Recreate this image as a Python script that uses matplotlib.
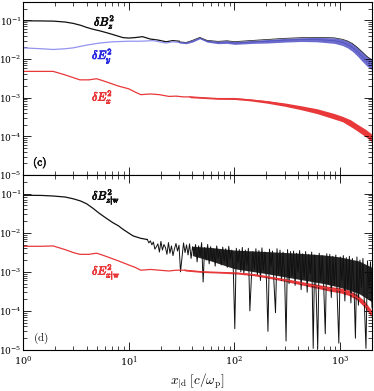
import numpy as np
import matplotlib
matplotlib.use("Agg")
import matplotlib.pyplot as plt
import matplotlib.patheffects as pe

plt.rcParams['mathtext.fontset'] = 'cm'
plt.rcParams['font.family'] = ['DejaVu Serif']

# ---------------- data ----------------
# panel (c) smooth low-x parts
x_bz = [1, 1.5, 1.93, 2.5, 2.98, 3.5, 4.0, 4.6, 5.3, 6.2, 7.1, 8.8, 10, 11.5, 13.5, 16, 19, 22.6, 26, 30]
bz2 = [0.098, 0.097, 0.096, 0.091, 0.084, 0.075, 0.066, 0.059, 0.054, 0.048, 0.043, 0.036, 0.035, 0.036, 0.038, 0.033, 0.031, 0.028, 0.03, 0.029]

x_ey = [1, 1.5, 1.93, 2.5, 2.98, 4.0, 5.3, 7.0, 10, 13, 17, 22.6, 26, 30]
ey2 = [0.0195, 0.0185, 0.0177, 0.0185, 0.0195, 0.023, 0.026, 0.028, 0.029, 0.029, 0.03, 0.026, 0.028, 0.027]

x_ex = [1, 1.5, 1.93, 2.5, 3.0, 3.45, 4.2, 4.96, 5.6, 6.6, 8.0, 10, 11.5, 13, 16, 19.5, 24, 28, 33, 38]
ex2 = [0.0048, 0.0048, 0.0048, 0.0039, 0.0033, 0.0029, 0.0029, 0.0031, 0.0028, 0.0024, 0.002, 0.0017, 0.0014, 0.0012, 0.00125, 0.0012, 0.00108, 0.0011, 0.00105, 0.00105]

# panel (c) noisy bands (x, low edge, mid, high edge)
band_ey_x = [30, 35, 40, 47, 55, 70, 85, 100, 150, 205, 300, 425, 600, 880, 1050, 1170, 1300, 1440, 1600, 1800, 2000]
band_ey_mid = [0.027, 0.026, 0.029, 0.035, 0.029, 0.027, 0.028, 0.026, 0.028, 0.029, 0.031, 0.032, 0.032, 0.030, 0.027, 0.024, 0.020, 0.016, 0.012, 0.0087, 0.0072]
band_ey_lo = [0.026, 0.025, 0.0275, 0.0335, 0.0275, 0.025, 0.0255, 0.024, 0.0255, 0.026, 0.0275, 0.0285, 0.028, 0.0255, 0.0225, 0.0195, 0.016, 0.0123, 0.009, 0.0065, 0.0053]
band_ey_hi = [0.028, 0.027, 0.0305, 0.0365, 0.0305, 0.0288, 0.0298, 0.0283, 0.0305, 0.0322, 0.0345, 0.0358, 0.0365, 0.0355, 0.0325, 0.0295, 0.0255, 0.0205, 0.0158, 0.0116, 0.0096]

band_ex_x = [38, 50, 70, 100, 140, 205, 300, 425, 600, 880, 1050, 1250, 1400, 1550, 1750, 2000]
band_ex_mid = [0.00105, 0.001, 0.00095, 0.00095, 0.00088, 0.00078, 0.00066, 0.00055, 0.00045, 0.00033, 0.00028, 0.00022, 0.00018, 0.00015, 0.00012, 0.00009]
band_ex_lo = [0.001, 0.00096, 0.00091, 0.0009, 0.00083, 0.00072, 0.0006, 0.00049, 0.00039, 0.00028, 0.00024, 0.00018, 0.000148, 0.000122, 0.000097, 0.000072]
band_ex_hi = [0.0011, 0.00104, 0.00099, 0.001, 0.00093, 0.00084, 0.00073, 0.00062, 0.00052, 0.00039, 0.00033, 0.00027, 0.00022, 0.000185, 0.00015, 0.000113]

# panel (d)
x_bzw = [1, 1.5, 1.93, 2.5, 2.98, 3.5, 4.0, 4.6, 5.3, 6.2, 7.1, 8.0, 8.8, 10, 11, 13, 15]
bzw2 = [0.091, 0.09, 0.087, 0.082, 0.074, 0.065, 0.055, 0.042, 0.031, 0.023, 0.018, 0.015, 0.0123, 0.0098, 0.0083, 0.0072, 0.0067]

# noisy part of dB^2_{z|w}, x from 15 to 2000 (150 log-spaced samples), values in units of 1e-3
bzw_noisy_milli = [
    6.7, 5.5, 6.2, 4.9, 5.8, 3.8, 4.4, 5.2, 3.2, 6.0, 3.6, 5.0, 4.2, 2.8, 5.6, 3.0, 4.6, 2.6, 3.9, 5.3,
    3.4, 4.8, 1.0, 2.4, 5.5, 3.1, 4.9, 2.7, 5.2, 2.2, 4.4, 2.9, 5.0, 1.8, 4.6, 2.5, 5.6, 0.55, 4.2, 2.0,
    5.0, 1.6, 4.4, 1.9, 3.8, 1.4, 4.6, 2.2, 3.5, 1.5, 4.3, 1.9, 3.9, 1.3, 4.5, 2.1, 3.6, 1.2, 0.035, 4.0,
    1.7, 3.7, 1.0, 4.2, 0.9, 3.6, 1.5, 4.0, 0.1, 0.7, 3.3, 1.2, 3.9, 0.8, 3.5, 0.6, 4.1, 1.1, 3.2, 0.6,
    0.03, 3.8, 1.4, 3.4, 0.5, 0.09, 3.9, 0.9, 3.6, 0.6, 3.2, 1.0, 0.017, 3.7, 0.5, 3.3, 0.8, 3.4, 0.45, 3.0,
    1.0, 3.5, 0.35, 2.9, 0.7, 3.3, 0.3, 2.8, 0.9, 3.2, 0.011, 2.7, 0.25, 0.011, 3.0, 0.6, 2.6, 0.4, 0.026, 2.9,
    0.5, 2.8, 0.22, 2.5, 0.45, 2.7, 0.2, 0.015, 2.4, 0.6, 2.6, 0.18, 2.3, 0.35, 2.5, 0.16, 2.2, 0.5, 0.02, 2.4,
    0.14, 2.0, 0.4, 2.2, 0.13, 0.011, 1.9, 0.35, 1.8, 0.12]

# dense core of the noisy black trace
core_x = [40, 60, 100, 200, 400, 700, 1000, 1500, 2000]
core_lo = [0.0026, 0.0019, 0.0012, 0.0009, 0.00065, 0.0005, 0.0004, 0.00028, 0.00017]
core_hi = [0.0045, 0.0042, 0.0036, 0.0033, 0.003, 0.0027, 0.0024, 0.0019, 0.0013]

x_exw = [1, 1.5, 1.93, 2.5, 3.0, 3.45, 4.2, 4.96, 5.6, 6.6, 8.0, 10, 11.5, 13, 16, 19.5, 24, 28, 34]
exw2 = [0.0045, 0.0045, 0.0046, 0.0037, 0.0031, 0.0028, 0.0028, 0.003, 0.0027, 0.0023, 0.0019, 0.0015, 0.0013, 0.0011, 0.00115, 0.0011, 0.00105, 0.0011, 0.0011]
band_exw_x = [34, 50, 70, 105, 150, 200, 290, 420, 600, 800, 1000, 1200, 1450, 1700, 1900, 2000]
band_exw_mid = [0.0011, 0.001, 0.00097, 0.00093, 0.00085, 0.00075, 0.00063, 0.00052, 0.00043, 0.00037, 0.00034, 0.00029, 0.00022, 0.00015, 0.0001, 0.000085]
band_exw_lo = [0.00105, 0.00096, 0.00093, 0.00088, 0.0008, 0.0007, 0.00058, 0.00047, 0.00038, 0.00032, 0.00029, 0.00025, 0.00019, 0.000125, 0.000082, 0.00007]
band_exw_hi = [0.00115, 0.00104, 0.00101, 0.00098, 0.0009, 0.0008, 0.00068, 0.00057, 0.00048, 0.00042, 0.00039, 0.00034, 0.00026, 0.00018, 0.00012, 0.0001]

# ---------------- figure ----------------
W, H = 374, 391
fig = plt.figure(figsize=(W / 100, H / 100), dpi=100)
L, R = 23 / W, 372 / W
ax1 = fig.add_axes([L, 1 - 175 / H, R - L, (175 - 2) / H])
ax2 = fig.add_axes([L, 1 - 350 / H, R - L, (350 - 175) / H])

BLACK = '#111111'
BLUE = '#6464cc'
BLUE_L = '#9494f0'
RED = '#e8383a'
lw = 0.9

# panel (c)
ax1.plot(x_bz, bz2, color=BLACK, lw=lw)
ax1.plot(band_ey_x, band_ey_hi, color=BLACK, lw=0.5)
ax1.plot(x_ey, ey2, color=BLUE_L, lw=lw)
ax1.fill_between(band_ey_x, band_ey_lo, band_ey_hi, color=BLUE, lw=0, alpha=0.95)
ax1.plot(band_ey_x, band_ey_mid, color='#5252bd', lw=0.6)
ax1.plot(x_ex, ex2, color=RED, lw=lw)
ax1.fill_between(band_ex_x, band_ex_lo, band_ex_hi, color=RED, lw=0)
ax1.plot(band_ex_x, band_ex_mid, color=RED, lw=lw)

# panel (d)
x_noisy = np.geomspace(15, 2000, len(bzw_noisy_milli))
ax2.plot(x_bzw, bzw2, color=BLACK, lw=lw)
ax2.fill_between(core_x, core_lo, core_hi, color='#1a1a1a', lw=0, alpha=0.95)
ax2.plot(x_noisy, np.array(bzw_noisy_milli) * 1e-3, color=BLACK, lw=0.7)
ax2.plot(x_exw, exw2, color=RED, lw=lw)
ax2.fill_between(band_exw_x, band_exw_lo, band_exw_hi, color=RED, lw=0)
ax2.plot(band_exw_x, band_exw_mid, color=RED, lw=lw)

for ax in (ax1, ax2):
    ax.set_xscale('log')
    ax.set_yscale('log')
    ax.set_xlim(1, 2000)
    ax.set_ylim(1e-5, 0.3)
    ax.tick_params(which='both', direction='in', top=True, right=True, labelsize=6.5)
    ax.tick_params(which='major', length=5.5, width=0.6)
    ax.tick_params(which='minor', length=3, width=0.5)
    ax.yaxis.set_major_locator(matplotlib.ticker.LogLocator(base=10, numticks=10))
    ax.yaxis.set_minor_locator(matplotlib.ticker.LogLocator(base=10, subs=np.arange(2, 10), numticks=12))
    ax.yaxis.set_minor_formatter(matplotlib.ticker.NullFormatter())
    for s in ax.spines.values():
        s.set_linewidth(0.8)
    ax.tick_params(axis='y', pad=1.0)
    ax.tick_params(axis='x', pad=3.5, labelsize=7)

ax1.tick_params(labelbottom=False)

def bold(c):
    return [pe.withStroke(linewidth=0.55, foreground=c)]

kw = dict(fontsize=8.5, va='center')
fig.text(94 / W, 1 - 22 / H, r'$\delta B_z^2$', color=BLACK, path_effects=bold(BLACK), **kw)
fig.text(92 / W, 1 - 56 / H, r'$\delta E_y^2$', color='#2a2ae0', path_effects=bold('#2a2ae0'), **kw)
fig.text(92 / W, 1 - 97 / H, r'$\delta E_x^2$', color=RED, path_effects=bold(RED), **kw)
fig.text(33 / W, 1 - 163 / H, r'$\mathrm{(c)}$', color=BLACK, va='center', fontsize=8,
         path_effects=[pe.withStroke(linewidth=0.4, foreground=BLACK)])
fig.text(92 / W, 1 - 197 / H, r'$\delta B_{z|\mathrm{w}}^2$', color=BLACK, path_effects=bold(BLACK), **kw)
fig.text(92 / W, 1 - 272 / H, r'$\delta E_{x|\mathrm{w}}^2$', color=RED, path_effects=bold(RED), **kw)
fig.text(33 / W, 1 - 338 / H, r'$\mathrm{(d)}$', color=BLACK, va='center', fontsize=8)

fig.text((L + R) / 2, 1 - 381 / H, r'$x_{|\mathrm{d}}\ [c/\omega_\mathrm{p}]$', fontsize=9.5,
         ha='center', va='center')

fig.savefig('out.png', dpi=100)
